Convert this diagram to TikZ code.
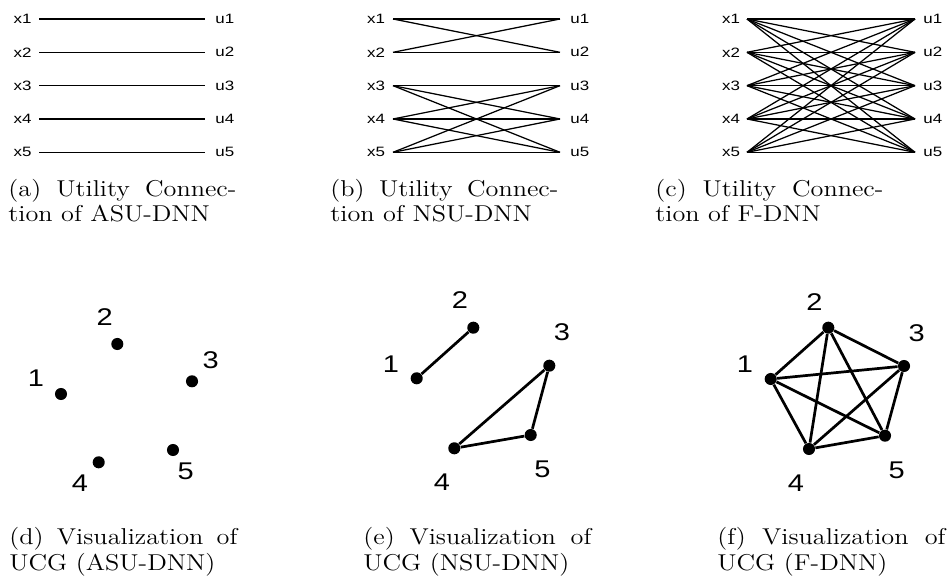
\documentclass[tikz,border=0pt]{standalone}
\usepackage{fontspec}
\newfontfamily\labfont{Liberation Sans}
\newcommand{\hstr}[2]{\scalebox{#1}[1]{#2}}
\begin{document}
\begin{tikzpicture}[x=0.48pt,y=-0.48pt,
  sl/.style={font=\labfont\fontsize{6.5}{7}\selectfont, inner sep=0},
  gl/.style={font=\labfont\fontsize{11.6}{13}\selectfont, inner sep=0},
  captxt/.style={font=\fontsize{11}{13}\selectfont, inner sep=0, anchor=base west},
  dot/.style={circle, fill=black, inner sep=0, minimum size=5.8pt},
  tlink/.style={line width=0.6pt},
  gedge/.style={line width=1.3pt}]
\useasboundingbox (0,0) rectangle (950,582);

% ---------- top row: utility connections ----------
\foreach \p/\xl/\xs/\xe/\xu in {a/32/39/205/215,b/385.5/393/560/570,c/740.5/747/915/923}{
  \foreach \i in {1,...,5}{
    \pgfmathsetmacro\yy{19+33.33*(\i-1)}
    \node[sl,anchor=east] (\p-x\i) at (\xl,\yy) {\hstr{1.25}{x\i}};
    \node[sl,anchor=west] (\p-u\i) at (\xu,\yy) {\hstr{1.25}{u\i}};
    \coordinate (\p-l\i) at (\xs,\yy);
    \coordinate (\p-r\i) at (\xe,\yy);
  }
}
\foreach \i in {1,...,5} \draw[tlink] (a-l\i) -- (a-r\i);
\foreach \i/\j in {1/1,1/2,2/1,2/2,3/3,3/4,3/5,4/3,4/4,4/5,5/3,5/4,5/5}
  \draw[tlink] (b-l\i) -- (b-r\j);
\foreach \i in {1,...,5}{
  \foreach \j in {1,...,5}{
    \draw[tlink] (c-l\i) -- (c-r\j);
  }
}

% ---------- top captions ----------
\node[captxt] (capa1) at (8,197) {\hstr{1.145}{\makebox[95.6pt][s]{(a) Utility Connec-}}};
\node[captxt] (capa2) at (8,222) {\hstr{1.145}{tion of ASU-DNN}};
\node[captxt] (capb1) at (330,197) {\hstr{1.145}{\makebox[95.6pt][s]{(b) Utility Connec-}}};
\node[captxt] (capb2) at (330,222) {\hstr{1.145}{tion of NSU-DNN}};
\node[captxt] (capc1) at (655,197) {\hstr{1.145}{\makebox[95.6pt][s]{(c) Utility Connec-}}};
\node[captxt] (capc2) at (655,222) {\hstr{1.145}{tion of F-DNN}};

% ---------- (d) ----------
\node[dot] (d1) at (61,394) {};
\node[dot] (d2) at (117.3,344) {};
\node[dot] (d3) at (192,381.3) {};
\node[dot] (d4) at (98.7,462.3) {};
\node[dot] (d5) at (173,450) {};
\node[gl] (dl1) at (36,378.3) {\hstr{1.2}{1}};
\node[gl] (dl2) at (104.7,316.7) {\hstr{1.2}{2}};
\node[gl] (dl3) at (210.7,360) {\hstr{1.2}{3}};
\node[gl] (dl4) at (80,482.7) {\hstr{1.2}{4}};
\node[gl] (dl5) at (185.7,471.3) {\hstr{1.2}{5}};

% ---------- (e) ----------
\node[dot] (e1) at (416.7,378.3) {};
\node[dot] (e2) at (473.3,327.7) {};
\node[dot] (e3) at (549.3,365.7) {};
\node[dot] (e4) at (454.3,448.3) {};
\node[dot] (e5) at (530.7,435) {};
\node[gl] (el1) at (391,364) {\hstr{1.2}{1}};
\node[gl] (el2) at (460,300) {\hstr{1.2}{2}};
\node[gl] (el3) at (562,332) {\hstr{1.2}{3}};
\node[gl] (el4) at (442,482) {\hstr{1.2}{4}};
\node[gl] (el5) at (542.5,469) {\hstr{1.2}{5}};
\draw[gedge] (e1) -- (e2);
\draw[gedge] (e3) -- (e4) -- (e5) -- (e3);

% ---------- (f) ----------
\node[dot] (f1) at (770.7,379) {};
\node[dot] (f2) at (828.3,327.7) {};
\node[dot] (f3) at (904,366) {};
\node[dot] (f4) at (809,449) {};
\node[dot] (f5) at (885,435.7) {};
\node[gl] (fl1) at (745,364) {\hstr{1.2}{1}};
\node[gl] (fl2) at (814.3,301.7) {\hstr{1.2}{2}};
\node[gl] (fl3) at (916.7,332.7) {\hstr{1.2}{3}};
\node[gl] (fl4) at (796,483.3) {\hstr{1.2}{4}};
\node[gl] (fl5) at (896.7,470) {\hstr{1.2}{5}};
\foreach \i/\j in {1/2,1/3,1/4,1/5,2/3,2/4,2/5,3/4,3/5,4/5}
  \draw[gedge] (f\i) -- (f\j);

% ---------- bottom captions ----------
\node[captxt] (capd1) at (9,544) {\hstr{1.145}{\makebox[95.6pt][s]{(d) Visualization of}}};
\node[captxt] (capd2) at (9,570) {\hstr{1.145}{UCG (ASU-DNN)}};
\node[captxt] (cape1) at (363,544) {\hstr{1.145}{\makebox[95.6pt][s]{(e) Visualization of}}};
\node[captxt] (cape2) at (363,570) {\hstr{1.145}{UCG (NSU-DNN)}};
\node[captxt] (capf1) at (717,544) {\hstr{1.145}{\makebox[95.6pt][s]{(f) Visualization of}}};
\node[captxt] (capf2) at (717,570) {\hstr{1.145}{UCG (F-DNN)}};
\end{tikzpicture}
\end{document}
